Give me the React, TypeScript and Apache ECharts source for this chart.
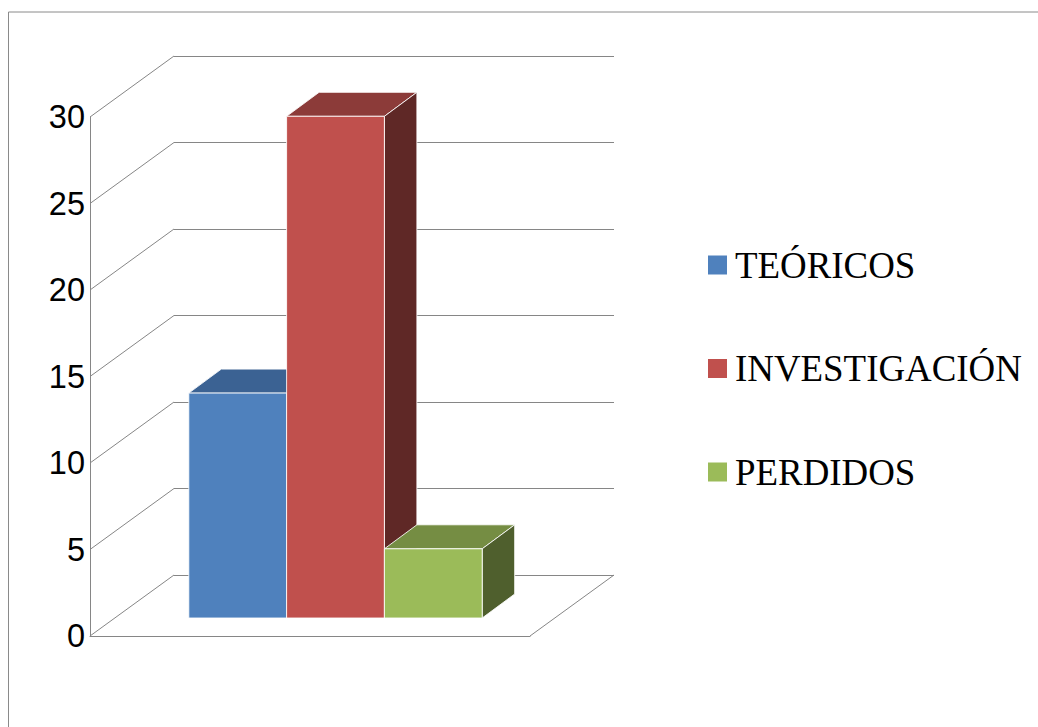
import React, { useEffect, useRef } from "react";
import * as echarts from "echarts";

const categories = ["Total"];
const seriesNames = ["TEÓRICOS", "INVESTIGACIÓN", "PERDIDOS"];
const teoricos = [13];
const investigacion = [29];
const perdidos = [4];
const tickValues = [0, 5, 10, 15, 20, 25, 30];
const frontColors = ["#4F81BD", "#C0504D", "#9BBB59"];
const topColors = ["#3B6293", "#8C3B39", "#758D43"];
const sideColors = ["#2A4566", "#5F2826", "#4F5F2D"];

const WIDTH = 1038;
const HEIGHT = 727;
const LINE = "#868686";
// Perspective of the box: shift from the front plane to the back wall.
const WALL_DX = 84;
const WALL_DY = -61;
// Bars stand inside the box; their own depth is smaller than the box's.
const BAR_SHIFT_X = 25.5;
const BAR_SHIFT_Y = -18;
const BAR_WIDTH = 97.8;
const BAR_DX = 32.5;
const BAR_DY = -24;

function barSeries(name: string, values: number[], index: number) {
  return {
    name,
    type: "custom",
    xAxisIndex: 0,
    yAxisIndex: 0,
    itemStyle: { color: frontColors[index] },
    z: 5 + index,
    data: values.map((v, i) => [i, v]),
    renderItem: (_params: any, api: any) => {
      const top = api.coord([api.value(0), api.value(1)]);
      const base = api.coord([api.value(0), 0]);
      const left = top[0] + BAR_SHIFT_X + (index - 1.5) * BAR_WIDTH;
      const right = left + BAR_WIDTH;
      const yTop = top[1] + BAR_SHIFT_Y;
      const yBase = base[1] + BAR_SHIFT_Y;
      const stroke = { stroke: "rgba(255,255,255,0.85)", lineWidth: 1 };
      return {
        type: "group",
        children: [
          {
            type: "polygon",
            shape: {
              points: [
                [left, yTop],
                [left + BAR_DX, yTop + BAR_DY],
                [right + BAR_DX, yTop + BAR_DY],
                [right, yTop],
              ],
            },
            style: { fill: topColors[index], ...stroke },
          },
          {
            type: "polygon",
            shape: {
              points: [
                [right, yTop],
                [right + BAR_DX, yTop + BAR_DY],
                [right + BAR_DX, yBase + BAR_DY],
                [right, yBase],
              ],
            },
            style: { fill: sideColors[index], ...stroke },
          },
          {
            type: "rect",
            shape: { x: left, y: yTop, width: BAR_WIDTH, height: yBase - yTop },
            style: { fill: frontColors[index], ...stroke },
          },
        ],
      };
    },
  };
}

export default function App() {
  const ref = useRef<HTMLDivElement>(null);

  useEffect(() => {
    document.body.style.margin = "0";
    const chart = echarts.init(ref.current!, undefined, { renderer: "svg" });
    chart.setOption({
      animation: false,
      backgroundColor: "#ffffff",
      grid: [
        { left: 90, top: 117, width: 440, height: 519 },
        { left: 174, top: 56, width: 440, height: 519 },
      ],
      xAxis: [
        {
          gridIndex: 0,
          type: "category",
          data: categories,
          axisLine: { show: true, lineStyle: { color: LINE, width: 1 } },
          axisTick: { show: false },
          axisLabel: { show: false },
        },
        {
          gridIndex: 1,
          type: "category",
          data: categories,
          axisLine: { show: false },
          axisTick: { show: false },
          axisLabel: { show: false },
        },
      ],
      yAxis: [
        {
          gridIndex: 0,
          type: "value",
          min: 0,
          max: 30,
          interval: 5,
          axisLine: { show: true, lineStyle: { color: LINE, width: 1 } },
          axisTick: { show: false },
          splitLine: { show: false },
          axisLabel: {
            margin: 5,
            fontFamily: "Liberation Sans",
            fontSize: 32.5,
            color: "#000000",
          },
        },
        {
          gridIndex: 1,
          type: "value",
          min: 0,
          max: 30,
          interval: 5,
          axisLine: { show: false },
          axisTick: { show: false },
          axisLabel: { show: false },
          splitLine: { show: true, lineStyle: { color: LINE, width: 1 } },
        },
      ],
      legend: {
        orient: "vertical",
        left: 708,
        top: 246.5,
        padding: 0,
        icon: "rect",
        itemWidth: 19,
        itemHeight: 19,
        itemGap: 66.5,
        data: seriesNames,
        selectedMode: false,
        textStyle: {
          fontFamily: "Liberation Serif",
          fontSize: 36.9,
          color: "#000000",
          padding: [0, 0, 0, 3],
        },
      },
      series: [
        {
          name: "walls",
          type: "custom",
          xAxisIndex: 0,
          yAxisIndex: 0,
          z: 1,
          silent: true,
          data: tickValues.map((v) => [0, v]),
          renderItem: (params: any, api: any) => {
            const cs = params.coordSys;
            const y = api.coord([api.value(0), api.value(1)])[1];
            const lineStyle = { stroke: LINE, lineWidth: 1, fill: "none" };
            const children: any[] = [
              {
                type: "line",
                shape: { x1: cs.x, y1: y, x2: cs.x + WALL_DX, y2: y + WALL_DY },
                style: lineStyle,
              },
            ];
            if (api.value(1) === 0) {
              children.push({
                type: "line",
                shape: {
                  x1: cs.x + cs.width,
                  y1: y,
                  x2: cs.x + cs.width + WALL_DX,
                  y2: y + WALL_DY,
                },
                style: lineStyle,
              });
            }
            return { type: "group", children };
          },
        },
        barSeries(seriesNames[0], teoricos, 0),
        barSeries(seriesNames[1], investigacion, 1),
        barSeries(seriesNames[2], perdidos, 2),
      ],
      graphic: [
        {
          type: "polyline",
          silent: true,
          shape: {
            points: [
              [8.5, HEIGHT + 2],
              [8.5, 12],
              [WIDTH + 2, 12],
            ],
          },
          style: { stroke: "#8A8A8A", lineWidth: 1, fill: "none" },
        },
      ],
    });
    return () => chart.dispose();
  }, []);

  return <div ref={ref} style={{ width: WIDTH, height: HEIGHT }} />;
}
